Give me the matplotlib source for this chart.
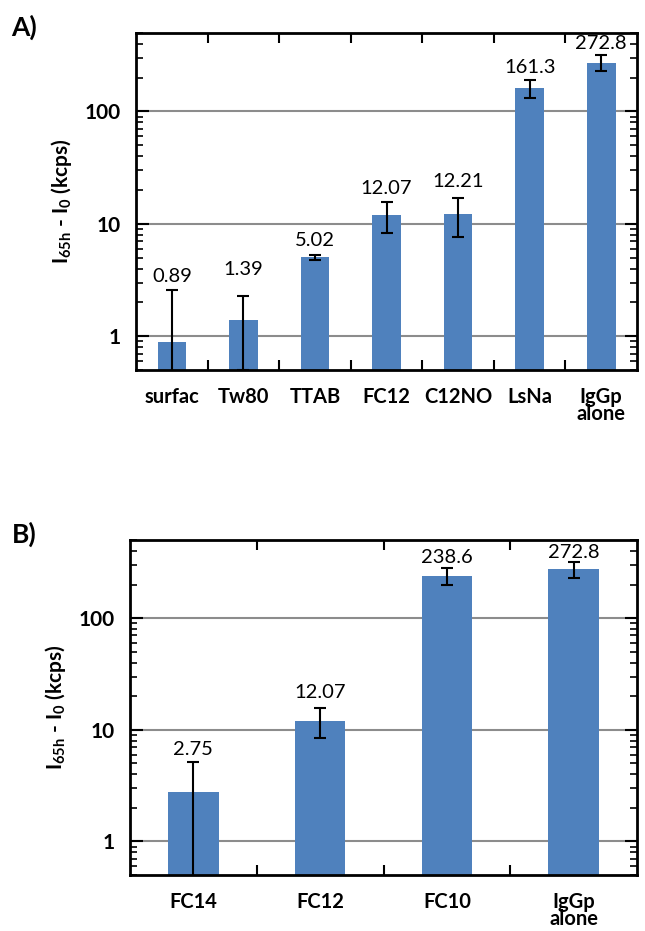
import numpy as np
import matplotlib
matplotlib.use('Agg')
import matplotlib.pyplot as plt
from matplotlib.ticker import LogLocator, NullFormatter

plt.rcParams['font.family'] = ['Lato', 'DejaVu Sans']
plt.rcParams['mathtext.fontset'] = 'custom'
plt.rcParams['mathtext.rm'] = 'Lato:bold'

# panel A
names_a  = ['surfac', 'Tw80', 'TTAB', 'FC12', 'C12NO', 'LsNa', 'IgGp\nalone']
vals_a   = [0.89, 1.39, 5.02, 12.07, 12.21, 161.3, 272.8]
errs_a   = [1.66, 0.89, 0.3, 3.7, 4.6, 30.0, 45.0]
labels_a = ['0.89', '1.39', '5.02', '12.07', '12.21', '161.3', '272.8']

# panel B
names_b  = ['FC14', 'FC12', 'FC10', 'IgGp\nalone']
vals_b   = [2.75, 12.07, 238.6, 272.8]
errs_b   = [2.4, 3.7, 40.0, 45.0]
labels_b = ['2.75', '12.07', '238.6', '272.8']

BLUE = '#4F81BD'


def draw(ax, names, vals, errs, labels, offs):
    n = len(names)
    x = np.arange(n)
    vals = np.asarray(vals)
    errs = np.asarray(errs)
    lower = np.minimum(errs, vals - 1e-3)

    ax.bar(x, vals, width=0.4, color=BLUE, zorder=2)
    ax.errorbar(x, vals, yerr=[lower, errs], fmt='none', ecolor='black',
                elinewidth=1.5, capsize=4, capthick=1.5, zorder=3)
    for xi, top, lab, o in zip(x, vals + errs, labels, offs):
        ax.annotate(lab, (xi, top), xytext=(0, o), textcoords='offset pixels',
                    ha='center', va='baseline', fontsize=14.5)

    ax.set_yscale('log')
    ax.set_ylim(0.5, 500)
    ax.set_xlim(-0.5, n - 0.5)
    ax.set_yticks([1, 10, 100])
    ax.set_yticklabels(['1', '10', '100'], fontweight='bold')
    ax.yaxis.set_minor_locator(LogLocator(base=10, subs=np.arange(2, 10)))
    ax.yaxis.set_minor_formatter(NullFormatter())
    ax.yaxis.grid(True, which='major', color='#8c8c8c', lw=1.5)
    ax.set_axisbelow(True)

    ax.tick_params(axis='y', which='both', direction='in', left=True,
                   right=True, labelsize=15, pad=11)
    ax.tick_params(axis='y', which='major', length=9, width=1.5)
    ax.tick_params(axis='y', which='minor', length=5, width=1.2)

    ax.set_xticks(x)
    ax.set_xticklabels(names, fontweight='bold', linespacing=0.85)
    ax.tick_params(axis='x', which='major', length=0, pad=12, labelsize=14.5)
    ax.set_xticks(np.arange(n - 1) + 0.5, minor=True)
    ax.tick_params(axis='x', which='minor', direction='in', top=True,
                   bottom=True, length=7, width=1.5)

    for s in ax.spines.values():
        s.set_linewidth(2)

    ax.set_ylabel(r'I$_\mathregular{65h}$ - I$_\mathregular{0}$ (kcps)',
                  fontsize=15, fontweight='bold', labelpad=8)


fig = plt.figure(figsize=(6.45, 9.31), dpi=100)
ax_a = fig.add_axes([0.2109, 0.6026, 0.7767, 0.362])
ax_b = fig.add_axes([0.2016, 0.0601, 0.786, 0.3598])

draw(ax_a, names_a, vals_a, errs_a, labels_a, [8, 21, 9, 8, 11, 7, 6])
draw(ax_b, names_b, vals_b, errs_b, labels_b, [7, 10, 5, 4])

fig.text(0.018, 0.962, 'A)', fontsize=19, fontweight='bold')
fig.text(0.018, 0.417, 'B)', fontsize=19, fontweight='bold')

fig.savefig('out.png', dpi=100)
